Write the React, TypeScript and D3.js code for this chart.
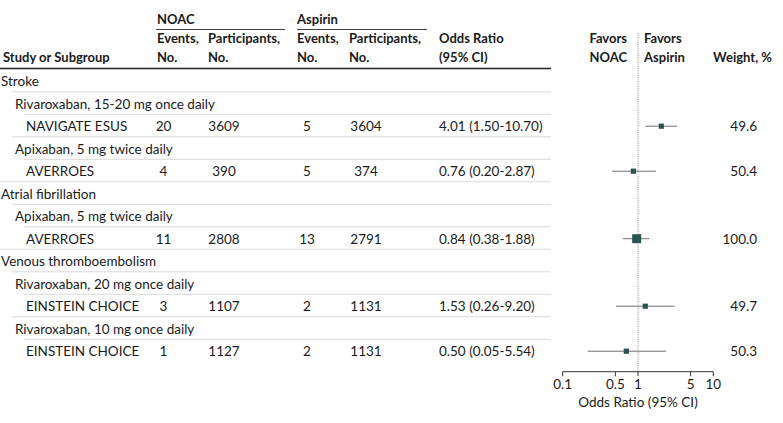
import React from "react";
import * as d3 from "d3";

const rowLabels = [
  "Stroke",
  "Rivaroxaban, 15-20 mg once daily",
  "NAVIGATE ESUS",
  "Apixaban, 5 mg twice daily",
  "AVERROES",
  "Atrial fibrillation",
  "Apixaban, 5 mg twice daily",
  "AVERROES",
  "Venous thromboembolism",
  "Rivaroxaban, 20 mg once daily",
  "EINSTEIN CHOICE",
  "Rivaroxaban, 10 mg once daily",
  "EINSTEIN CHOICE",
];
const rowLevels = [0, 1, 2, 1, 2, 0, 1, 2, 0, 1, 2, 1, 2];
const studyRows = [2, 4, 7, 10, 12];
const noacEvents = [20, 4, 11, 3, 1];
const noacParticipants = [3609, 390, 2808, 1107, 1127];
const aspirinEvents = [5, 5, 13, 2, 2];
const aspirinParticipants = [3604, 374, 2791, 1131, 1131];
const orLabels = [
  "4.01 (1.50-10.70)",
  "0.76 (0.20-2.87)",
  "0.84 (0.38-1.88)",
  "1.53 (0.26-9.20)",
  "0.50 (0.05-5.54)",
];
// values as drawn in the plot
const plotOR = [2.04, 0.87, 0.96, 1.25, 0.7];
const plotLo = [1.25, 0.45, 0.63, 0.51, 0.215];
const plotHi = [3.29, 1.73, 1.42, 3.05, 2.37];
const weights = [49.6, 50.4, 100.0, 49.7, 50.3];
const tickValues = [0.1, 0.5, 1, 5, 10];
const tickLabels = ["0.1", "0.5", "1", "5", "10"];

const W = 783;
const H = 423;
const FONT = "Lato, 'Open Sans', sans-serif";

export default function App() {
  const y = d3.scaleLinear().domain([0, 12]).range([86, 356]);
  const x = d3.scaleLog().domain([0.1, 10]).range([562.7, 713.3]);
  const sq = d3.scaleLinear().domain([0, 100]).range([1.4, 9]);
  const textIndent = [1, 15, 26];
  const lineIndent = [0, 12, 24];
  const tableRight = 551;
  const axisY = 371.7;

  return (
    <svg
      width={W}
      height={H}
      style={{ position: "absolute", left: 0, top: 0, background: "#fff" }}
      fontFamily={FONT}
      fontSize={13.5}
    >
      <rect width={W} height={H} fill="#fff" />
      {/* Header */}
      <g fill="#1a1a1a" fontWeight={700} fontSize={13}>
        <text x={157} y={24}>NOAC</text>
        <text x={297} y={24}>Aspirin</text>
        <text x={157} y={43}>Events,</text>
        <text x={157} y={62}>No.</text>
        <text x={208} y={43}>Participants,</text>
        <text x={208} y={62}>No.</text>
        <text x={297} y={43}>Events,</text>
        <text x={297} y={62}>No.</text>
        <text x={349} y={43}>Participants,</text>
        <text x={349} y={62}>No.</text>
        <text x={3} y={62}>Study or Subgroup</text>
        <text x={439} y={43}>Odds Ratio</text>
        <text x={439} y={62}>(95% CI)</text>
        <text x={627} y={43} textAnchor="end">Favors</text>
        <text x={627} y={62} textAnchor="end">NOAC</text>
        <text x={644} y={43}>Favors</text>
        <text x={644} y={62}>Aspirin</text>
        <text x={772} y={62} textAnchor="end">Weight, %</text>
      </g>
      <line x1={156} x2={285} y1={29.5} y2={29.5} stroke="#444" strokeWidth={1} />
      <line x1={297} x2={427} y1={29.5} y2={29.5} stroke="#444" strokeWidth={1} />
      <line x1={0} x2={tableRight} y1={68.5} y2={68.5} stroke="#222" strokeWidth={1.6} />

      {/* Row separators */}
      {rowLabels.slice(0, -1).map((_, i) => (
        <line
          key={"sep" + i}
          x1={lineIndent[rowLevels[i + 1]]}
          x2={tableRight}
          y1={y(i) + 5.8}
          y2={y(i) + 5.8}
          stroke="#d9d9d9"
          strokeWidth={1}
        />
      ))}

      {/* Row labels */}
      {rowLabels.map((l, i) => (
        <text key={"lbl" + i} x={textIndent[rowLevels[i]]} y={y(i)} fill="#1a1a1a">
          {l}
        </text>
      ))}

      {/* Study values */}
      {studyRows.map((r, k) => (
        <g key={"st" + k} fill="#1a1a1a">
          <text x={163.5} y={y(r)} textAnchor="middle">{noacEvents[k]}</text>
          <text x={224} y={y(r)} textAnchor="middle">{noacParticipants[k]}</text>
          <text x={307} y={y(r)} textAnchor="middle">{aspirinEvents[k]}</text>
          <text x={366} y={y(r)} textAnchor="middle">{aspirinParticipants[k]}</text>
          <text x={439} y={y(r)}>{orLabels[k]}</text>
          <text x={757} y={y(r)} textAnchor="end">{weights[k].toFixed(1)}</text>
        </g>
      ))}

      {/* Reference line */}
      <line
        x1={x(1)}
        x2={x(1)}
        y1={33}
        y2={axisY}
        stroke="#8a8a8a"
        strokeWidth={1}
        strokeDasharray="1,1.2"
      />

      {/* CIs and squares */}
      {studyRows.map((r, k) => {
        const cy = y(r) - 4.8;
        const s = sq(weights[k]);
        return (
          <g key={"pt" + k}>
            <line x1={x(plotLo[k])} x2={x(plotHi[k])} y1={cy} y2={cy} stroke="#707070" strokeWidth={1} />
            <rect x={x(plotOR[k]) - s / 2} y={cy - s / 2} width={s} height={s} fill="#2a5450" />
          </g>
        );
      })}

      {/* Axis */}
      <line x1={x(0.1)} x2={x(10)} y1={axisY} y2={axisY} stroke="#333" strokeWidth={1} />
      {tickValues.map((t, i) => (
        <g key={"tk" + i}>
          <line x1={x(t)} x2={x(t)} y1={axisY} y2={axisY + 4.5} stroke="#333" strokeWidth={1} />
          <text x={x(t)} y={389} textAnchor="middle" fill="#1a1a1a">{tickLabels[i]}</text>
        </g>
      ))}
      <text x={x(1)} y={406.5} textAnchor="middle" fill="#1a1a1a">Odds Ratio (95% CI)</text>
    </svg>
  );
}
